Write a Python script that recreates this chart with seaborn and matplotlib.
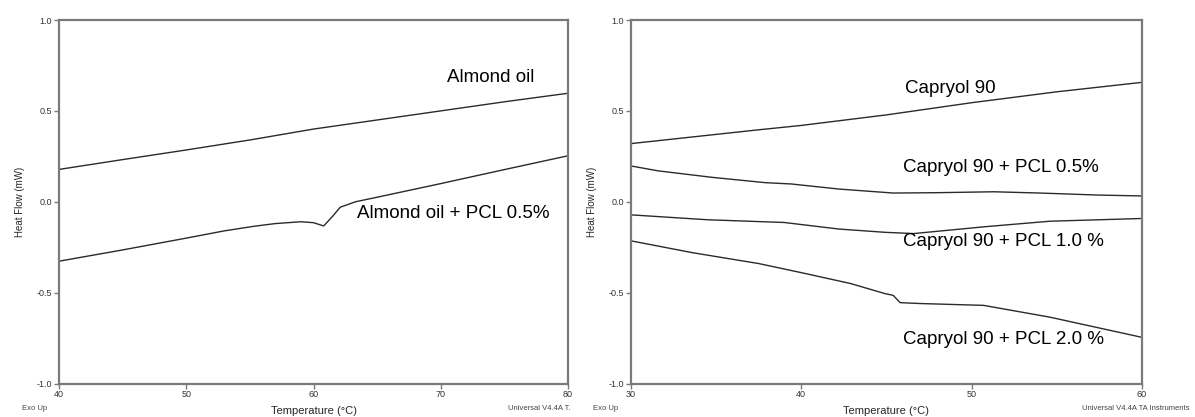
import numpy as np
import pandas as pd
import matplotlib
matplotlib.use("Agg")
import matplotlib.pyplot as plt
import seaborn as sns

# Left panel: almond oil DSC traces (temperature in C, heat flow in mW)
almond_temp = [40, 45, 50, 55, 60, 65, 70, 75, 80]
almond_flow = [0.178, 0.232, 0.285, 0.340, 0.400, 0.450, 0.500, 0.550, 0.597]

almond_pcl_temp = [40, 45, 50, 53, 55.4, 57, 59, 60, 60.8, 61.5, 62.1, 63.3, 65, 70, 75, 80]
almond_pcl_flow = [-0.327, -0.265, -0.200, -0.160, -0.134, -0.120, -0.110, -0.115,
                   -0.133, -0.080, -0.030, 0.000, 0.025, 0.100, 0.177, 0.253]

# Right panel: Capryol 90 DSC traces
capryol_temp = [30, 37.5, 40, 45, 50, 55, 60]
capryol_flow = [0.320, 0.396, 0.420, 0.478, 0.545, 0.605, 0.657]

cap05_temp = [30, 31.6, 34.8, 37.9, 39.4, 42.2, 45.4, 48, 51.3, 54, 57.4, 60]
cap05_flow = [0.197, 0.170, 0.134, 0.105, 0.098, 0.070, 0.048, 0.050, 0.055, 0.048, 0.037, 0.032]

cap10_temp = [30, 34.5, 39, 42.2, 44.9, 46.6, 50.7, 54.6, 60]
cap10_flow = [-0.072, -0.099, -0.114, -0.150, -0.168, -0.175, -0.138, -0.107, -0.092]

cap20_temp = [30, 33.6, 37.5, 40, 42.9, 44.9, 45.4, 45.8, 47, 50.7, 54.6, 60]
cap20_flow = [-0.215, -0.280, -0.340, -0.390, -0.450, -0.505, -0.515, -0.555,
              -0.560, -0.570, -0.635, -0.746]

left_labels = ["Almond oil", "Almond oil + PCL 0.5%"]
right_labels = ["Capryol 90", "Capryol 90 + PCL 0.5%", "Capryol 90 + PCL 1.0 %", "Capryol 90 + PCL 2.0 %"]


def to_df(pairs, labels):
    frames = [pd.DataFrame({"temp": t, "flow": f, "sample": lbl}) for (t, f), lbl in zip(pairs, labels)]
    return pd.concat(frames, ignore_index=True)


left_df = to_df([(almond_temp, almond_flow), (almond_pcl_temp, almond_pcl_flow)], left_labels)
right_df = to_df([(capryol_temp, capryol_flow), (cap05_temp, cap05_flow),
                  (cap10_temp, cap10_flow), (cap20_temp, cap20_flow)], right_labels)

sns.set_style("white")
plt.rcParams["font.family"] = ["Liberation Sans", "DejaVu Sans"]

fig = plt.figure(figsize=(11.95, 4.17), dpi=100)
ax1 = fig.add_axes([0.0494, 0.0803, 0.4259, 0.8717])
ax2 = fig.add_axes([0.528, 0.0803, 0.4276, 0.8717])

spine_gray = "#7a7a7a"
line_color = "#2a2a2a"

for ax, df, xlim, xticks in [(ax1, left_df, (40, 80), [40, 50, 60, 70, 80]),
                             (ax2, right_df, (30, 60), [30, 40, 50, 60])]:
    sns.lineplot(data=df, x="temp", y="flow", units="sample", estimator=None,
                 color=line_color, linewidth=1.0, sort=False, ax=ax)
    ax.set_xlim(*xlim)
    ax.set_ylim(-1.0, 1.0)
    ax.set_xticks(xticks)
    ax.set_yticks([-1.0, -0.5, 0.0, 0.5, 1.0])
    ax.set_yticklabels(["-1.0", "-0.5", "0.0", "0.5", "1.0"])
    ax.tick_params(axis="both", labelsize=6.5, labelcolor="#333333", color=spine_gray,
                   length=3.5, width=1, direction="out", pad=1.5,
                   bottom=True, left=True, top=False, right=False)
    for s in ax.spines.values():
        s.set_visible(True)
        s.set_color(spine_gray)
        s.set_linewidth(1.6)
    ax.set_xlabel("Temperature (°C)", fontsize=8, labelpad=5)
    ax.set_ylabel("Heat Flow (mW)", fontsize=7, labelpad=8)

# Curve labels
lbl = dict(fontsize=13.5, va="center", color="black")
ax1.text(70.5, 0.686, "Almond oil", **lbl)
ax1.text(63.4, -0.062, "Almond oil + PCL 0.5%", **lbl)
ax2.text(46.1, 0.625, "Capryol 90", **lbl)
ax2.text(46.0, 0.186, "Capryol 90 + PCL 0.5%", **lbl)
ax2.text(46.0, -0.22, "Capryol 90 + PCL 1.0 %", **lbl)
ax2.text(46.0, -0.758, "Capryol 90 + PCL 2.0 %", **lbl)

# Instrument footer text
foot = dict(fontsize=5.5, color="#444444", va="center")
fig.text(22 / 1195, 1 - 409 / 417, "Exo Up", **foot)
fig.text(593 / 1195, 1 - 409 / 417, "Exo Up", **foot)
fig.text(508 / 1195, 1 - 409 / 417, "Universal V4.4A T.", **foot)
fig.text(1082 / 1195, 1 - 409 / 417, "Universal V4.4A TA Instruments", **foot)

fig.savefig("out.png", dpi=100)
